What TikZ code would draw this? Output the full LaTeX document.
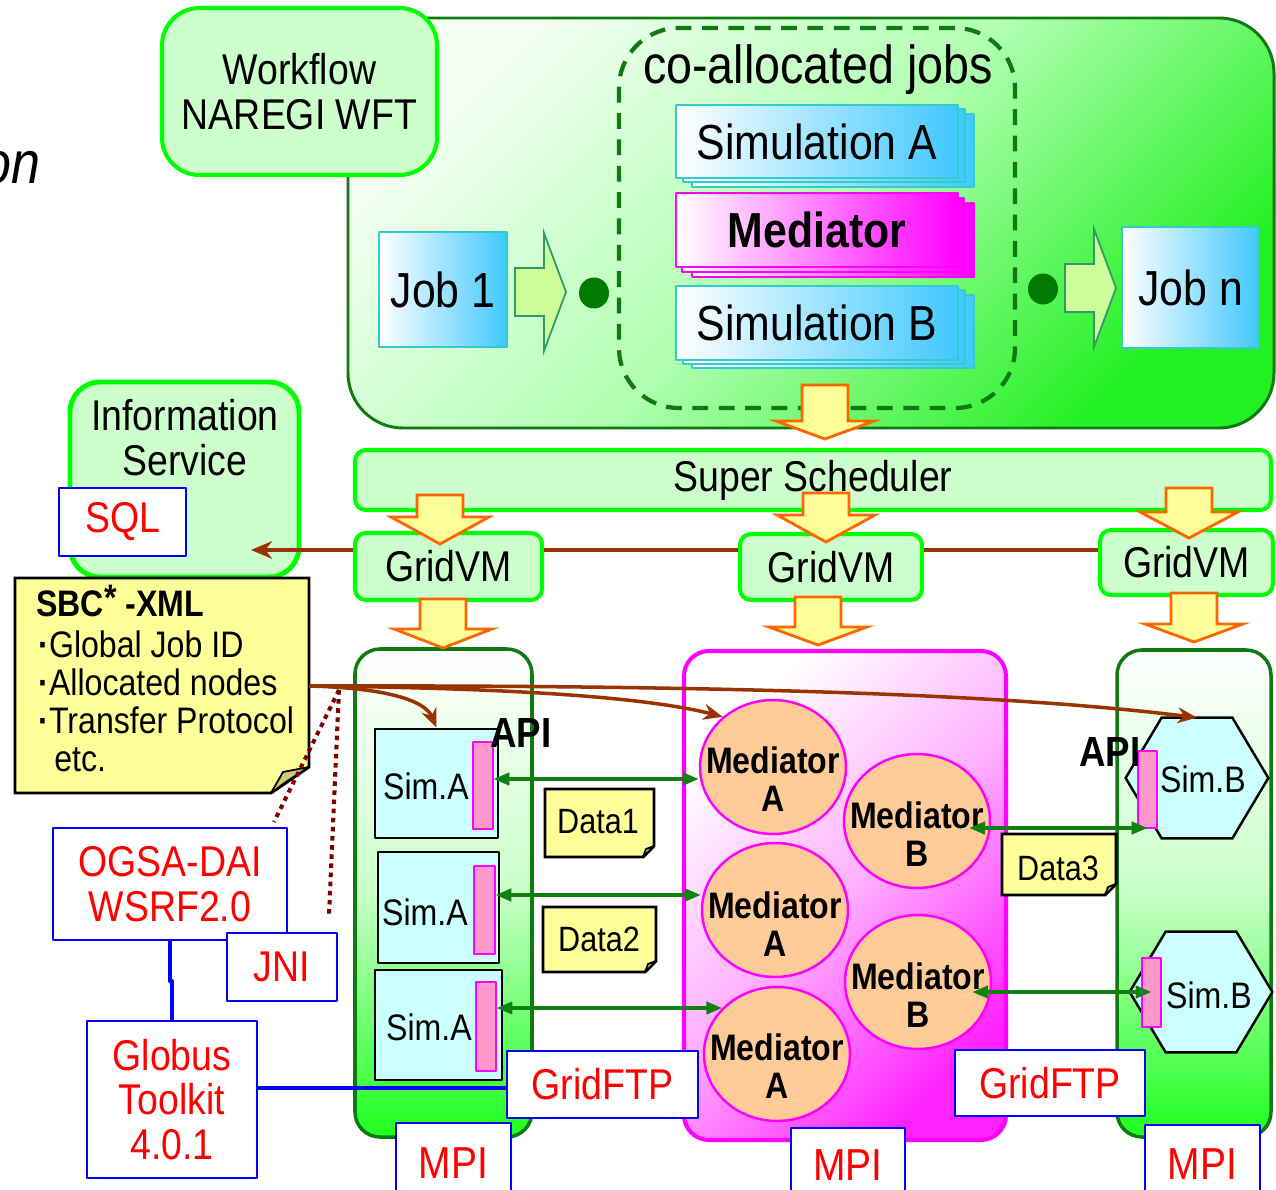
\documentclass[tikz,border=0pt]{standalone}
\usepackage{fontspec}
\setmainfont[FakeStretch=0.87]{Liberation Sans}
\usetikzlibrary{fit,calc,shapes.geometric,arrows.meta}

\definecolor{dkgreen}{HTML}{0F7A0F}
\definecolor{vgreen}{HTML}{00FF00}
\definecolor{lgreen}{HTML}{CCFFCC}
\definecolor{topc}{HTML}{F2FFF2}
\definecolor{midc}{HTML}{B0FFB0}
\definecolor{botc}{HTML}{22F022}
\definecolor{colmid}{HTML}{C8FFC8}
\definecolor{colbot}{HTML}{1EFF1E}
\definecolor{magmid}{HTML}{FFB0FF}
\definecolor{magbot}{HTML}{FF22FF}
\definecolor{arrfill}{HTML}{FFFF99}
\definecolor{arrline}{HTML}{FF6600}
\definecolor{rafill}{HTML}{CCFF99}
\definecolor{raline}{HTML}{339966}
\definecolor{cyanend}{HTML}{40C8FF}
\definecolor{cyanline}{HTML}{33CCCC}
\definecolor{mag}{HTML}{FF00FF}
\definecolor{brownln}{HTML}{993300}
\definecolor{peach}{HTML}{FFCC99}
\definecolor{simcyan}{HTML}{CCFFFF}
\definecolor{pinkbar}{HTML}{FF99CC}
\definecolor{noteyel}{HTML}{FFFF99}
\definecolor{foldc}{HTML}{CCCC77}
\definecolor{dotred}{HTML}{800000}
\definecolor{blueln}{HTML}{0000FF}
\definecolor{redtxt}{HTML}{FF0000}
\definecolor{dotgreen}{HTML}{007A00}
\definecolor{arrgreen}{HTML}{108010}

\tikzset{
  fA/.style={font=\fontsize{24.5}{25.5}\selectfont},
  fB/.style={font=\fontsize{28}{33}\selectfont},
  fBb/.style={font=\fontsize{28}{33}\selectfont\bfseries},
  fC/.style={font=\fontsize{30.5}{36}\selectfont},
  fD/.style={font=\fontsize{21}{21.5}\selectfont},
  fDb/.style={font=\fontsize{21}{21.5}\selectfont\bfseries},
  fE/.style={font=\fontsize{20}{24}\selectfont},
  fM/.style={font=\fontsize{25.5}{30}\selectfont},
  fAPI/.style={font=\fontsize{24}{28}\selectfont\bfseries},
  % text placed at the centre of a fitted box
  intext/.style={label={[fA, align=center]center:#1}},
  inbig/.style={label={[fB]center:#1}},
  inbigb/.style={label={[fBb]center:#1}},
  inred/.style={label={[fA, align=center, text=redtxt]center:#1}},
  inredM/.style={label={[fM, text=redtxt, yshift=-2pt]center:#1}},
  greenbox/.style={draw=vgreen, line width=2.3pt, fill=lgreen, rounded corners=0.22cm, inner sep=0pt},
  bluebox/.style={draw=blueln, line width=1.4pt, fill=white, inner sep=0pt},
  cyanlayer/.style={draw=cyanline, line width=1.2pt, left color=white, right color=cyanend},
  cyanbox/.style={cyanlayer, inner sep=0pt},
  maglayer/.style={draw=mag, line width=1.2pt, left color=white, right color=mag},
  magbox/.style={maglayer, inner sep=0pt},
  simabox/.style={draw=black, line width=1.4pt, fill=simcyan, inner sep=0pt},
  apibar/.style={draw=mag, line width=0.7pt, fill=pinkbar, inner sep=0pt},
  medell/.style={ellipse, draw=mag, line width=1.4pt, fill=peach, minimum width=2.92cm, minimum height=2.68cm, inner sep=0pt},
  medtext/.style={font=\fontsize{21}{21.5}\selectfont\bfseries, align=center, inner sep=0pt},
  hexst/.style={draw=black, line width=1.4pt, fill=simcyan, line join=miter},
  notest/.style={draw=black, line width=1.7pt, fill=noteyel, line join=miter},
  foldst/.style={draw=black, line width=1pt, fill=foldc},
  brownline/.style={draw=brownln, line width=2.8pt},
  brownarr/.style={draw=brownln, line width=2pt, -{Stealth[length=11pt,width=9pt]}},
  garrow/.style={draw=arrgreen, line width=2pt, {Triangle[length=9pt,width=7pt]}-{Triangle[length=9pt,width=7pt]}},
  dotline/.style={draw=dotred, line width=2.3pt, dash pattern=on 2.6pt off 2.6pt},
  blueline/.style={draw=blueln, line width=2.3pt},
  greendot/.style={ellipse, fill=dotgreen, minimum width=0.6cm, minimum height=0.62cm, inner sep=0pt},
  pics/dnarrow/.style 2 args={code={
    \draw[draw=arrline, fill=arrfill, line width=1.6pt, line join=miter]
      (0,0) -- (-49,-#2) -- (-23,-#2) -- (-23,-#1) -- (23,-#1) -- (23,-#2) -- (49,-#2) -- cycle;}},
  pics/rtarrow/.style={code={
    \draw[draw=raline, fill=rafill, line width=1pt, line join=miter]
      (0,0) -- (-22,-59) -- (-22,-24) -- (-51,-24) -- (-51,24) -- (-22,24) -- (-22,59) -- cycle;}},
}

\begin{document}
\begin{tikzpicture}[x=0.02cm, y=-0.02cm, line join=round]
\useasboundingbox (0,0) rectangle (1276,1190);

% fragment of a heading at the left margin
\node[anchor=base west, inner sep=0, font=\fontsize{34}{40}\selectfont\itshape] (frag) at (-18,183) {on};

% ---------------- workflow area ----------------
\node[fit={(348,18)(1274,428)}, inner sep=0pt, draw=dkgreen, line width=1.7pt, rounded corners=1.1cm,
      top color=topc, bottom color=botc, middle color=midc, shading angle=45] (wfarea) {};
\node[greenbox, rounded corners=0.75cm, fit={(162,8)(437,175)}, intext={Workflow\\NAREGI WFT}] (wft) {};

\node[fit={(619,28)(1015,408)}, inner sep=0pt, draw=dkgreen, dash pattern=on 9pt off 6pt,
      line width=2.4pt, rounded corners=1.2cm] (coalloc) {};
\node[fC] (coalloctitle) at (818,70) {co-allocated jobs};

% stacked job cards
\draw[cyanlayer] (692,114) rectangle (974,187);
\draw[cyanlayer] (683,109) rectangle (965,182);
\node[cyanbox, fit={(676,105)(958,178)}, inbig={Simulation A}] (simA) {};

\draw[maglayer] (692,203) rectangle (974,277);
\draw[maglayer] (682,198) rectangle (964,272);
\node[magbox, fit={(676,193)(958,267)}, inbigb={Mediator}] (med) {};

\draw[cyanlayer] (692,295) rectangle (974,368);
\draw[cyanlayer] (683,290) rectangle (965,364);
\node[cyanbox, fit={(676,286)(958,360)}, inbig={Simulation B}] (simB) {};

\node[cyanbox, fit={(379,232)(507,347)}, inbig={Job 1}] (job1) {};
\node[cyanbox, fit={(1122,227)(1259,348)}, inbig={Job n}] (jobn) {};

\pic at (566,292) {rtarrow};
\pic at (1116,288) {rtarrow};
\node[greendot] (dot1) at (594,293) {};
\node[greendot] (dot2) at (1043,289) {};

\pic at (825,439) {dnarrow={54}{18}};

% ---------------- information service ----------------
\node[greenbox, line width=2.8pt, rounded corners=0.6cm, fit={(70,382)(299,577)}] (info) {};
\node[fA, align=center] (infotext) at (185,438) {Information\\Service};
\node[bluebox, fit={(59,488)(186,556)}, inred={SQL}] (sql) {};

% ---------------- scheduler and GridVMs ----------------
\node[greenbox, fit={(355,450)(1271,510)}, intext={Super Scheduler}] (super) {};

\coordinate (infoin) at (251,550);
\node[greenbox, fit={(355,533)(542,600)}, intext={GridVM}] (gvm1) {};
\node[greenbox, fit={(740,534)(922,600)}, intext={GridVM}] (gvm2) {};
\node[greenbox, fit={(1100,530)(1273,595)}, intext={GridVM}] (gvm3) {};
\draw[brownline] (gvm3.west |- infoin) -- (gvm2.east |- infoin);
\draw[brownline] (gvm2.west |- infoin) -- (gvm1.east |- infoin);
\draw[brownline, -{Stealth[length=12pt,width=10pt]}] (gvm1.west |- infoin) -- (infoin);

\pic at (440,544) {dnarrow={49}{27}};
\pic at (826,542) {dnarrow={49}{27}};
\pic at (1189,538) {dnarrow={50}{26}};

% ---------------- execution containers ----------------
\node[fit={(355,649)(532,1137)}, inner sep=0pt, draw=dkgreen, line width=2pt, rounded corners=0.5cm,
      top color=white, bottom color=colbot, middle color=colmid] (contA) {};
\node[fit={(684,651)(1006,1140)}, inner sep=0pt, draw=mag, line width=2.3pt, rounded corners=0.5cm,
      top color=white, bottom color=magbot, middle color=magmid, shading angle=45] (contM) {};
\node[fit={(1117,650)(1271,1137)}, inner sep=0pt, draw=dkgreen, line width=2pt, rounded corners=0.5cm,
      top color=white, bottom color=colbot, middle color=colmid] (contB) {};

\pic at (443,648) {dnarrow={49}{19}};
\pic at (818,645) {dnarrow={48}{18}};
\pic at (1194,642) {dnarrow={49}{18}};

% simulation A processes with API bars
\node[simabox, fit={(375,729)(498,838)}] (simA1) {};
\node[apibar, fit={(473,742)(493,829)}] (barA1) {};
\node[fD] (labA1) at (426,786) {Sim.A};
\node[simabox, fit={(378,852)(499,963)}] (simA2) {};
\node[apibar, fit={(474,866)(495,954)}] (barA2) {};
\node[fD] (labA2) at (425,912) {Sim.A};
\node[simabox, fit={(375,970)(502,1080)}] (simA3) {};
\node[apibar, fit={(476,982)(496,1071)}] (barA3) {};
\node[fD] (labA3) at (429,1027) {Sim.A};

% mediators
\node[medell] (medA1) at (773,767) {};
\node[medtext] (tA1) at (773,779) {Mediator\\A};
\node[medell] (medB1) at (917,821) {};
\node[medtext] (tB1) at (917,834) {Mediator\\B};
\node[medell] (medA2) at (775,910) {};
\node[medtext] (tA2) at (775,924) {Mediator\\A};
\node[medell] (medB2) at (918,982) {};
\node[medtext] (tB2) at (918,995) {Mediator\\B};
\node[medell] (medA3) at (777,1054) {};
\node[medtext] (tA3) at (777,1066) {Mediator\\A};

% simulation B processes
\node[fit={(1126,718)(1268,838)}, inner sep=0pt] (hexB1) {};
\draw[hexst] (hexB1.west) -- ($(hexB1.north west)+(36,0)$) -- ($(hexB1.north east)+(-36,0)$) -- (hexB1.east)
  -- ($(hexB1.south east)+(-36,0)$) -- ($(hexB1.south west)+(36,0)$) -- cycle;
\node[apibar, fit={(1138,751)(1157,828)}] (barB1) {};
\node[fD] (labB1) at (1203,779) {Sim.B};
\node[fit={(1130,932)(1272,1052)}, inner sep=0pt] (hexB2) {};
\draw[hexst] (hexB2.west) -- ($(hexB2.north west)+(36,0)$) -- ($(hexB2.north east)+(-36,0)$) -- (hexB2.east)
  -- ($(hexB2.south east)+(-36,0)$) -- ($(hexB2.south west)+(36,0)$) -- cycle;
\node[apibar, fit={(1142,958)(1161,1027)}] (barB2) {};
\node[fD] (labB2) at (1209,995) {Sim.B};

% data notes
\draw[notest] (545,789) -- (654,789) -- (654,846) -- (643,857) -- (545,857) -- cycle;
\draw[foldst] (654,846) -- (646,849) -- (643,857) -- cycle;
\node[fE] (data1) at (598,822) {Data1};
\draw[notest] (543,907) -- (656,907) -- (656,961) -- (645,972) -- (543,972) -- cycle;
\draw[foldst] (656,961) -- (648,964) -- (645,972) -- cycle;
\node[fE] (data2) at (599,939) {Data2};
\draw[notest] (1002,834) -- (1116,834) -- (1116,884) -- (1105,895) -- (1002,895) -- cycle;
\draw[foldst] (1116,884) -- (1108,887) -- (1105,895) -- cycle;
\node[fE] (data3) at (1058,868) {Data3};

% data exchange between simulations and mediators
\draw[garrow] (barA1.east |- 0,779) -- (medA1.west |- 0,779);
\draw[garrow] (barA2.east |- 0,895) -- (medA2.west |- 0,895);
\draw[garrow] (barA3.east |- medA3.140) -- (medA3.140);
\coordinate (mB1in) at ($(medB1.east)+(-22,7)$);
\coordinate (mB2in) at ($(medB2.east)+(-20,10)$);
\draw[garrow] (mB1in) -- (mB1in -| barB1.center);
\draw[garrow] (mB2in) -- (mB2in -| barB2.center);

% ---------------- SBC-XML note ----------------
\draw[notest] (15,578) -- (309,578) -- (309,767) -- (271,793) -- (15,793) -- cycle;
\draw[foldst] (309,767) -- (283,772) -- (271,793) .. controls (287,781) .. (309,767);
\node[fit={(15,578)(309,793)}, inner sep=0pt] (sbc) {};
\node[fDb, anchor=base west, inner sep=0pt] (sbc0) at (36,616) {SBC\raisebox{0.15em}{*} -XML};
\node[fD, anchor=base west, inner sep=0pt] (sbc1) at (38,657) {\textbf{·}Global Job ID};
\node[fD, anchor=base west, inner sep=0pt] (sbc2) at (38,695) {\textbf{·}Allocated nodes};
\node[fD, anchor=base west, inner sep=0pt] (sbc3) at (38,733) {\textbf{·}Transfer Protocol};
\node[fD, anchor=base west, inner sep=0pt] (sbc4) at (54,771) {etc.};

\coordinate (sbcout) at (sbc.east |- 0,686);
\draw[brownarr] (sbcout) .. controls (385,688) and (425,700) .. (simA1.north);
\draw[brownarr] (sbcout) .. controls (520,688) and (650,698) .. (medA1.135);
\draw[brownarr] (sbcout) .. controls (700,685) and (1000,693) .. (hexB1.north);

% ---------------- middleware boxes ----------------
\node[bluebox, fit={(53,828)(287,940)}, inred={OGSA-DAI\\WSRF2.0}] (ogsa) {};
\node[bluebox, fit={(227,933)(337,1001)}, inred={JNI}] (jni) {};
\node[bluebox, fit={(87,1021)(257,1178)}, inred={Globus\\Toolkit\\4.0.1}] (globus) {};

\coordinate (dotsrc) at (339,690);
\coordinate (dotjni) at (329,915);
\coordinate (dotogsa) at (274,822);
\draw[dotline] (dotsrc) -- (dotjni);
\draw[dotline] (dotsrc) -- (dotogsa);

\draw[blueline] (ogsa.south) -- ++(0,40) -| (globus.north);
\draw[blueline] (globus.east |- 0,1088) -- (507,1088);

\node[bluebox, fit={(507,1051)(698,1118)}, inred={GridFTP}] (ftpL) {};
\node[bluebox, fit={(955,1050)(1145,1116)}, inred={GridFTP}] (ftpR) {};
\node[bluebox, fit={(396,1123)(511,1196)}, inredM={MPI}] (mpiL) {};
\node[bluebox, fit={(791,1128)(905,1196)}, inredM={MPI}] (mpiM) {};
\node[bluebox, fit={(1145,1125)(1260,1196)}, inredM={MPI}] (mpiR) {};

\node[fAPI] (apiL) at (521,733) {API};
\node[fAPI] (apiR) at (1110,752) {API};
\end{tikzpicture}
\end{document}
